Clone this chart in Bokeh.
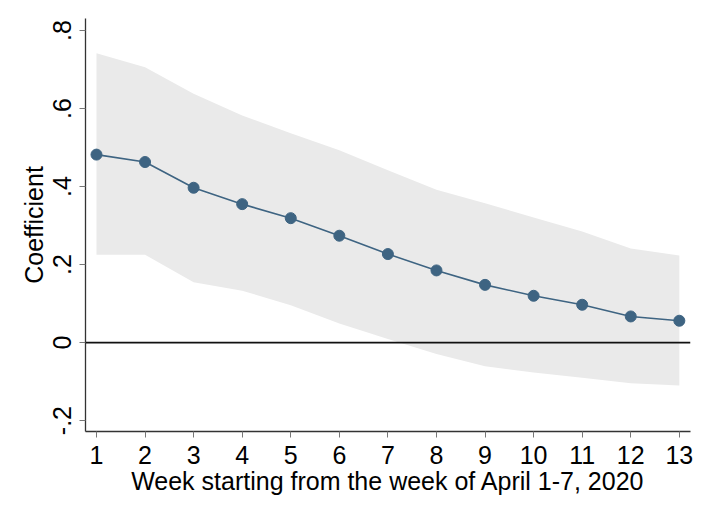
from bokeh.plotting import figure
from bokeh.models import ColumnDataSource, FixedTicker, Span, Range1d
from bokeh.embed import file_html
from bokeh.resources import INLINE

weeks = [1, 2, 3, 4, 5, 6, 7, 8, 9, 10, 11, 12, 13]
coef = [0.482, 0.463, 0.397, 0.355, 0.319, 0.274, 0.227, 0.185, 0.148, 0.120, 0.097, 0.067, 0.056]
upper = [0.742, 0.706, 0.638, 0.582, 0.537, 0.493, 0.442, 0.392, 0.357, 0.321, 0.285, 0.241, 0.223]
lower = [0.225, 0.225, 0.155, 0.133, 0.096, 0.049, 0.009, -0.029, -0.061, -0.077, -0.090, -0.104, -0.110]
y_ticks = [-0.2, 0.0, 0.2, 0.4, 0.6, 0.8]
y_tick_labels = ["-.2", "0", ".2", ".4", ".6", ".8"]
x_title = "Week starting from the week of April 1-7, 2020"
y_title = "Coefficient"

src = ColumnDataSource(dict(x=weeks, y=coef, lo=lower, hi=upper))

FONT = "Liberation Sans"
FS = "25px"
p = figure(width=693, height=500, output_backend="svg", toolbar_location=None,
           x_range=Range1d(0.774, 13.23), y_range=Range1d(-0.228, 0.831),
           min_border_left=85, min_border_right=3, min_border_top=18, min_border_bottom=69)
p.outline_line_color = None
p.xgrid.visible = False
p.ygrid.visible = False

p.varea(x="x", y1="lo", y2="hi", source=src, fill_color="#EAEAEA", fill_alpha=1.0)
p.add_layout(Span(location=0, dimension="width", line_color="#111111", line_width=1.6))
p.line(x="x", y="y", source=src, line_color="#3E6482", line_width=1.6)
p.scatter(x="x", y="y", source=src, size=11, fill_color="#3E6482", line_color="#3E6482")

# x axis
p.xaxis.ticker = FixedTicker(ticks=weeks)
p.xaxis.axis_label = x_title
p.xaxis.axis_label_text_font = FONT
p.xaxis.axis_label_text_font_size = FS
p.xaxis.axis_label_text_font_style = "normal"
p.xaxis.axis_label_text_color = "black"
p.xaxis.axis_label_standoff = 0
p.xaxis.major_label_text_font = FONT
p.xaxis.major_label_text_font_size = FS
p.xaxis.major_label_text_color = "black"
p.xaxis.major_label_standoff = 8
p.xaxis.major_tick_out = 6
p.xaxis.major_tick_in = 0
p.xaxis.minor_tick_line_color = None
p.xaxis.axis_line_color = "#333333"
p.xaxis.axis_line_width = 1.3
p.xaxis.major_tick_line_color = "#777777"

# y axis
p.yaxis.ticker = FixedTicker(ticks=y_ticks)
p.yaxis.major_label_overrides = {t: l for t, l in zip(y_ticks, y_tick_labels)}
p.yaxis.major_label_orientation = "vertical"
p.yaxis.axis_label = y_title
p.yaxis.axis_label_text_font = FONT
p.yaxis.axis_label_text_font_size = FS
p.yaxis.axis_label_text_font_style = "normal"
p.yaxis.axis_label_text_color = "black"
p.yaxis.axis_label_standoff = 3
p.yaxis.major_label_text_font = FONT
p.yaxis.major_label_text_font_size = FS
p.yaxis.major_label_text_color = "black"
p.yaxis.major_label_standoff = 8
p.yaxis.major_tick_out = 6
p.yaxis.major_tick_in = 0
p.yaxis.minor_tick_line_color = None
p.yaxis.axis_line_color = "#333333"
p.yaxis.axis_line_width = 1.3
p.yaxis.major_tick_line_color = "#777777"

open("out.html", "w").write(file_html(p, INLINE))
